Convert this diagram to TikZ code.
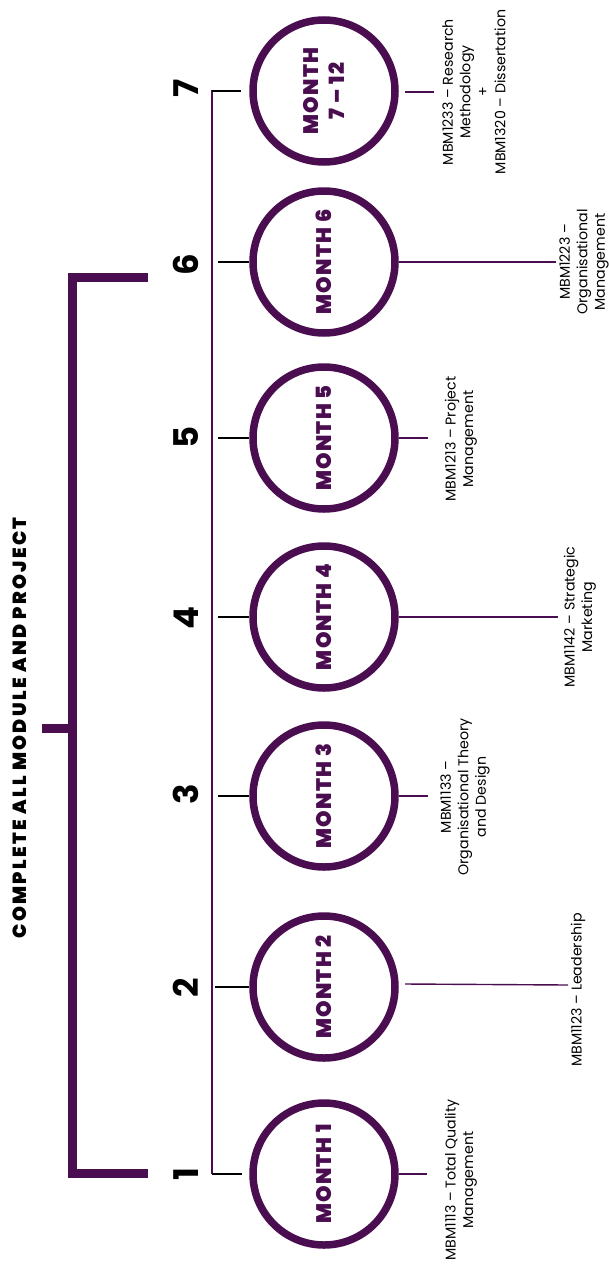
\documentclass[tikz,border=0pt]{standalone}
\usepackage{fontspec}
\setmainfont{Poppins}
\newfontfamily\heavyfont{Poppins Black}[LetterSpace=6]
\newfontfamily\titlefont{Poppins Black}[LetterSpace=12]
\newfontfamily\numfont{Poppins Bold}
\definecolor{mbpurple}{HTML}{4A0D4F}
\tikzset{
  monthcirc/.style={circle,draw=mbpurple,line width=7.5pt,minimum size=142pt,inner sep=0pt},
  monthtxt/.style={rotate=90,text=mbpurple,font=\heavyfont\fontsize{21}{26}\selectfont,align=center,inner sep=0pt},
  numtxt/.style={rotate=90,font=\numfont\fontsize{34}{34}\selectfont,inner sep=0pt},
  modtxt/.style={rotate=90,font=\fontsize{14.2}{17.5}\selectfont,align=center,inner sep=0pt},
  titletxt/.style={rotate=90,font=\titlefont\fontsize{19}{19}\selectfont,inner sep=0pt},
  tick/.style={draw=black,line width=1.4pt},
  conn/.style={draw=mbpurple,line width=1.4pt},
  bracketline/.style={draw=mbpurple,line width=9pt,line join=miter,line cap=butt}
}
\begin{document}
\begin{tikzpicture}[x=1pt,y=-1pt]
\useasboundingbox (0,0) rectangle (608,1266);
% title and bracket
\node[titletxt] (title) at (20,728) {COMPLETE ALL MODULE AND PROJECT};
\coordinate (bt) at (148,277);
\coordinate (bb) at (148,1173);
\coordinate (bm) at (72,728);
\coordinate (bs) at (42,728);
\draw[bracketline] (bt) -- (72,277) -- (72,1173) -- (bb);
\draw[bracketline] (bm) -- (bs);
% timeline
\coordinate (tTop) at (212,90);
\coordinate (tBot) at (212,1174);
\draw[conn,line width=1.3pt] (tTop) -- (tBot);
% circles
\node[monthcirc] (c7) at (324,91) {};
\node[monthcirc] (c6) at (324,262) {};
\node[monthcirc] (c5) at (324,438) {};
\node[monthcirc] (c4) at (324,617) {};
\node[monthcirc] (c3) at (324,796) {};
\node[monthcirc] (c2) at (324,987) {};
\node[monthcirc] (c1) at (324,1174) {};
\node[monthtxt] (m7) at (c7) {MONTH\\7 – 12};
\node[monthtxt] (m6) at (c6) {MONTH 6};
\node[monthtxt] (m5) at (c5) {MONTH 5};
\node[monthtxt] (m4) at (c4) {MONTH 4};
\node[monthtxt] (m3) at (c3) {MONTH 3};
\node[monthtxt] (m2) at (c2) {MONTH 2};
\node[monthtxt] (m1) at (c1) {MONTH 1};
% numbers
\node[numtxt] (n7) at (186,88) {7};
\node[numtxt] (n6) at (186,265) {6};
\node[numtxt] (n5) at (186,437) {5};
\node[numtxt] (n4) at (186,618) {4};
\node[numtxt] (n3) at (186,794) {3};
\node[numtxt] (n2) at (186,988) {2};
\node[numtxt] (n1) at (186,1174) {1};
% left ticks
\coordinate (l7) at (212,91);
\coordinate (l6) at (218,262);
\coordinate (l5) at (218,438);
\coordinate (l4) at (218,617);
\coordinate (l3) at (218,796);
\coordinate (l2) at (215,987);
\coordinate (l1) at (212,1174);
\draw[tick] (l7) -- (241,91);
\draw[tick] (l6) -- (c6.west);
\draw[tick] (l5) -- (c5.west);
\draw[tick] (l4) -- (c4.west);
\draw[tick] (l3) -- (c3.west);
\draw[tick] (l2) -- (c2.west);
\draw[tick] (l1) -- (242,1174);
% right connectors
\coordinate (r7) at (434,92);
\coordinate (r6) at (556,262);
\coordinate (r5) at (428,438);
\coordinate (r4) at (558,617);
\coordinate (r3) at (428,796);
\coordinate (r2) at (568,985);
\coordinate (r1) at (427,1174);
\draw[conn] (405,92) -- (r7);
\draw[conn] (c6.east) -- (r6);
\draw[conn] (c5.east) -- (r5);
\draw[conn] (c4.east) -- (r4);
\draw[conn] (c3.east) -- (r3);
\draw[conn] (405,984) -- (r2);
\draw[conn] (c1.east) -- (r1);
% module labels
\node[modtxt] (d7) at (474,92) {MBM1233 – Research\\Methodology\\+\\MBM1320 – Dissertation};
\node[modtxt] (d6) at (584,262) {MBM1223 –\\Organisational\\Management};
\node[modtxt] (d5) at (461,439) {MBM1213 – Project\\Management};
\node[modtxt] (d4) at (580,617) {MBM1142 – Strategic\\Marketing};
\node[modtxt] (d3) at (465,797) {MBM1133 –\\Organisational Theory\\and Design};
\node[modtxt] (d2) at (578,990) {MBM1123 – Leadership};
\node[modtxt] (d1) at (461,1180) {MBM1113 – Total Quality\\Management};
\end{tikzpicture}
\end{document}
